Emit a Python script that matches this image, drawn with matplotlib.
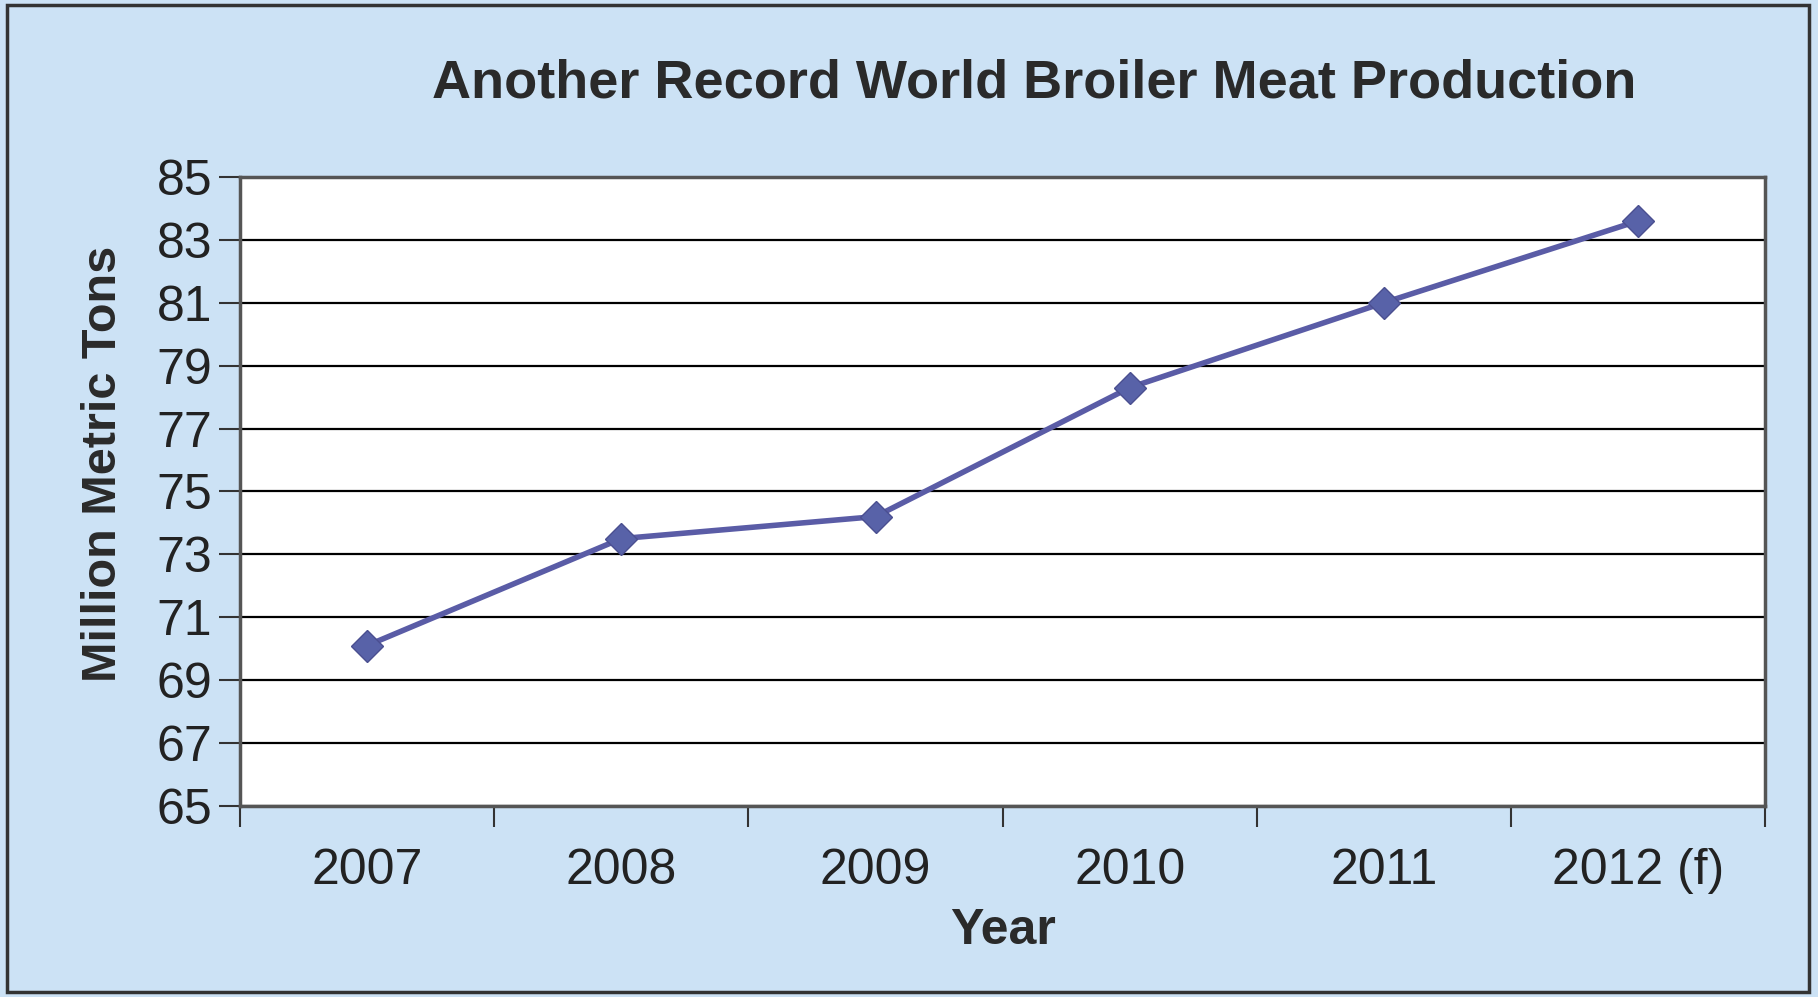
import matplotlib.pyplot as plt
from matplotlib.patches import Rectangle

# data
years = ['2007', '2008', '2009', '2010', '2011', '2012 (f)']
production = [70.1, 73.5, 74.2, 78.3, 81.0, 83.6]
y_ticks = [65, 67, 69, 71, 73, 75, 77, 79, 81, 83, 85]

plt.rcParams['font.family'] = ['Liberation Sans', 'DejaVu Sans']

bg = '#cce2f5'
line_color = '#5a5ca6'

fig = plt.figure(figsize=(18.18, 9.97), dpi=100, facecolor=bg)
ax = fig.add_axes([0.132, 0.1916, 0.839, 0.631])
ax.set_facecolor('white')

x = list(range(len(years)))
ax.plot(x, production, color=line_color, linewidth=4, marker='D', markersize=16,
        markerfacecolor='#5862a8', markeredgecolor='#4a4f90', zorder=3)

ax.set_xlim(-0.5, len(years) - 0.5)
ax.set_ylim(65, 85)
ax.set_yticks(y_ticks)
ax.set_yticklabels([str(v) for v in y_ticks])
ax.set_xticks(x)
ax.set_xticklabels(years)
# ticks sit between categories like in Excel
ax.set_xticks([i - 0.5 for i in range(len(years) + 1)], minor=True)
ax.tick_params(axis='x', which='major', length=0, labelsize=36, pad=30, colors='#222222')
ax.tick_params(axis='x', which='minor', length=15, width=1.5, direction='out', color='#333333')
ax.tick_params(axis='y', length=15, width=1.5, direction='out', labelsize=36, pad=5,
               colors='#222222', color='#333333')

ax.grid(axis='y', color='black', linewidth=1.6)
ax.set_axisbelow(True)
for side in ['top', 'bottom', 'left', 'right']:
    ax.spines[side].set_color('#555555')
    ax.spines[side].set_linewidth(2.5)

fig.text(0.569, 0.916, 'Another Record World Broiler Meat Production', ha='center', va='center',
         fontsize=39, fontweight='bold', color='#2a2a2a')
fig.text(0.057, 0.535, 'Million Metric Tons', ha='center', va='center', rotation=90,
         fontsize=35, fontweight='bold', color='#2a2a2a')
fig.text(0.552, 0.066, 'Year', ha='center', va='center',
         fontsize=36, fontweight='bold', color='#2a2a2a')

# outer chart frame
fig.patches.append(Rectangle((0.004, 0.005), 0.991, 0.99, transform=fig.transFigure,
                             fill=False, edgecolor='#333333', linewidth=2.5))

fig.savefig('out.png', dpi=100, facecolor=bg)
